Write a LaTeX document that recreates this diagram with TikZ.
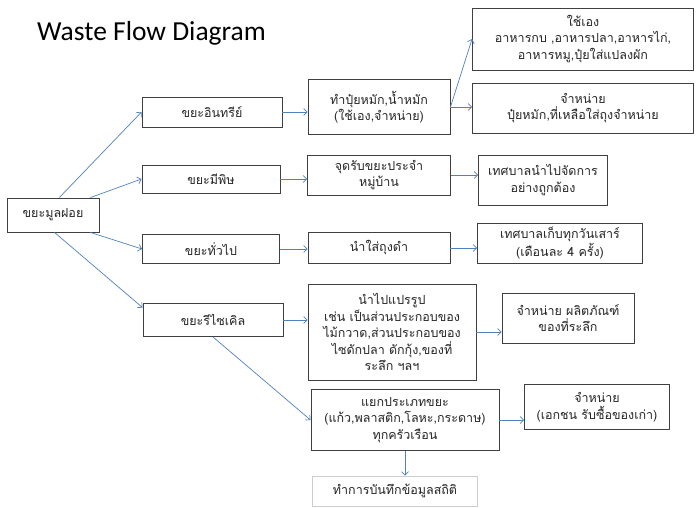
\documentclass[tikz,border=0pt]{standalone}
\usepackage{fontspec}
\setmainfont{Carlito}
\newfontfamily\thaifont[Script=Thai]{Loma}
\usetikzlibrary{arrows.meta}
\definecolor{flowblue}{RGB}{79,129,189}
\definecolor{boxgray}{RGB}{64,64,64}
\definecolor{lightedge}{RGB}{205,205,205}

\begin{document}
\begin{tikzpicture}[x=1pt,y=-1pt,
    box/.style={draw=boxgray,line width=0.9pt,fill=white,align=center,inner sep=1pt,
        font=\thaifont\fontsize{12.5}{16.5}\selectfont,text=black!85},
    flow/.style={draw=flowblue,line width=0.7pt,-{Straight Barb[length=3.5pt,width=7pt]}}]
    \useasboundingbox (0,0) rectangle (696,508);
    \node[font=\fontsize{27.5}{30}\selectfont,anchor=west,inner sep=0pt] at (37,33)(title) {Waste Flow Diagram};

    \node[box,minimum width=92pt,minimum height=34pt] at (53,215)(root) {ขยะมูลฝอย};

    \node[box,minimum width=140pt,minimum height=30pt] at (212,112)(organic) {ขยะอินทรีย์};
    \node[box,minimum width=138pt,minimum height=28pt] at (211,179)(toxic) {ขยะมีพิษ};
    \node[box,minimum width=137pt,minimum height=29pt] at (211,249)(general) {ขยะทั่วไป};
    \node[box,minimum width=140pt,minimum height=33pt] at (213,320)(recycle) {ขยะรีไซเคิล};

    \node[box,minimum width=142pt,minimum height=55pt] at (379,107)(compost) {ทำปุ๋ยหมัก,น้ำหมัก\\(ใช้เอง,จำหน่าย)};
    \node[box,minimum width=143pt,minimum height=40pt] at (379,175)(dropoff) {จุดรับขยะประจำ\\หมู่บ้าน};
    \node[box,minimum width=142pt,minimum height=31pt] at (379,248)(blackbag) {นำใส่ถุงดำ};
    \node[box,minimum width=168pt,minimum height=96pt] at (392,332)(craft) {นำไปแปรรูป\\เช่น เป็นส่วนประกอบของ\\ไม้กวาด,ส่วนประกอบของ\\ไซดักปลา ดักกุ้ง,ของที่\\ระลึก ฯลฯ};
    \node[box,minimum width=188pt,minimum height=61pt] at (405,420)(sorting) {แยกประเภทขยะ\\(แก้ว,พลาสติก,โลหะ,กระดาษ)\\ทุกครัวเรือน};
    \node[box,draw=lightedge,minimum width=165pt,minimum height=30pt] at (395,491)(record) {ทำการบันทึกข้อมูลสถิติ};

    \node[box,minimum width=221pt,minimum height=62pt] at (583,39)(selfuse) {ใช้เอง\\อาหารกบ ,อาหารปลา,อาหารไก่,\\อาหารหมู,ปุ๋ยใส่แปลงผัก};
    \node[box,minimum width=221pt,minimum height=50pt] at (583,108)(sellcompost) {จำหน่าย\\ปุ๋ยหมัก,ที่เหลือใส่ถุงจำหน่าย};
    \node[box,minimum width=129pt,minimum height=50pt] at (543,180)(municipal) {เทศบาลนำไปจัดการ\\อย่างถูกต้อง};
    \node[box,minimum width=165pt,minimum height=40pt] at (560,243)(saturday) {เทศบาลเก็บทุกวันเสาร์\\(เดือนละ 4 ครั้ง)};
    \node[box,minimum width=132pt,minimum height=50pt] at (568,318)(souvenir) {จำหน่าย ผลิตภัณฑ์\\ของที่ระลึก};
    \node[box,minimum width=145pt,minimum height=45pt] at (597,407)(buyer) {จำหน่าย\\(เอกชน รับซื้อของเก่า)};

    \draw[flow] (root.70) -- (organic.west);
    \draw[flow] (root.25) -- (toxic.west);
    \draw[flow] (root.-25) -- (general.west);
    \draw[flow] (root.-85) -- (recycle.170);
    \draw[flow] (recycle.-90) -- (sorting.west);

    \draw[flow] (organic.east) -- (organic.east -| compost.west);
    \draw[flow] (toxic.east) -- (toxic.east -| dropoff.west);
    \draw[flow] (general.east) -- (general.east -| blackbag.west);
    \draw[flow] (recycle.east) -- (recycle.east -| craft.west);

    \draw[flow] (compost.east) -- (selfuse.west);
    \draw[flow] (compost.east) -- (compost.east -| sellcompost.west);
    \draw[flow] (dropoff.east) -- (dropoff.east -| municipal.west);
    \draw[flow] (blackbag.east) -- (blackbag.east -| saturday.west);
    \draw[flow] (craft.east) -- (craft.east -| souvenir.west);
    \draw[flow] (sorting.east) -- (sorting.east -| buyer.west);
    \draw[flow] (sorting.south) -- (sorting.south |- record.north);
\end{tikzpicture}
\end{document}
